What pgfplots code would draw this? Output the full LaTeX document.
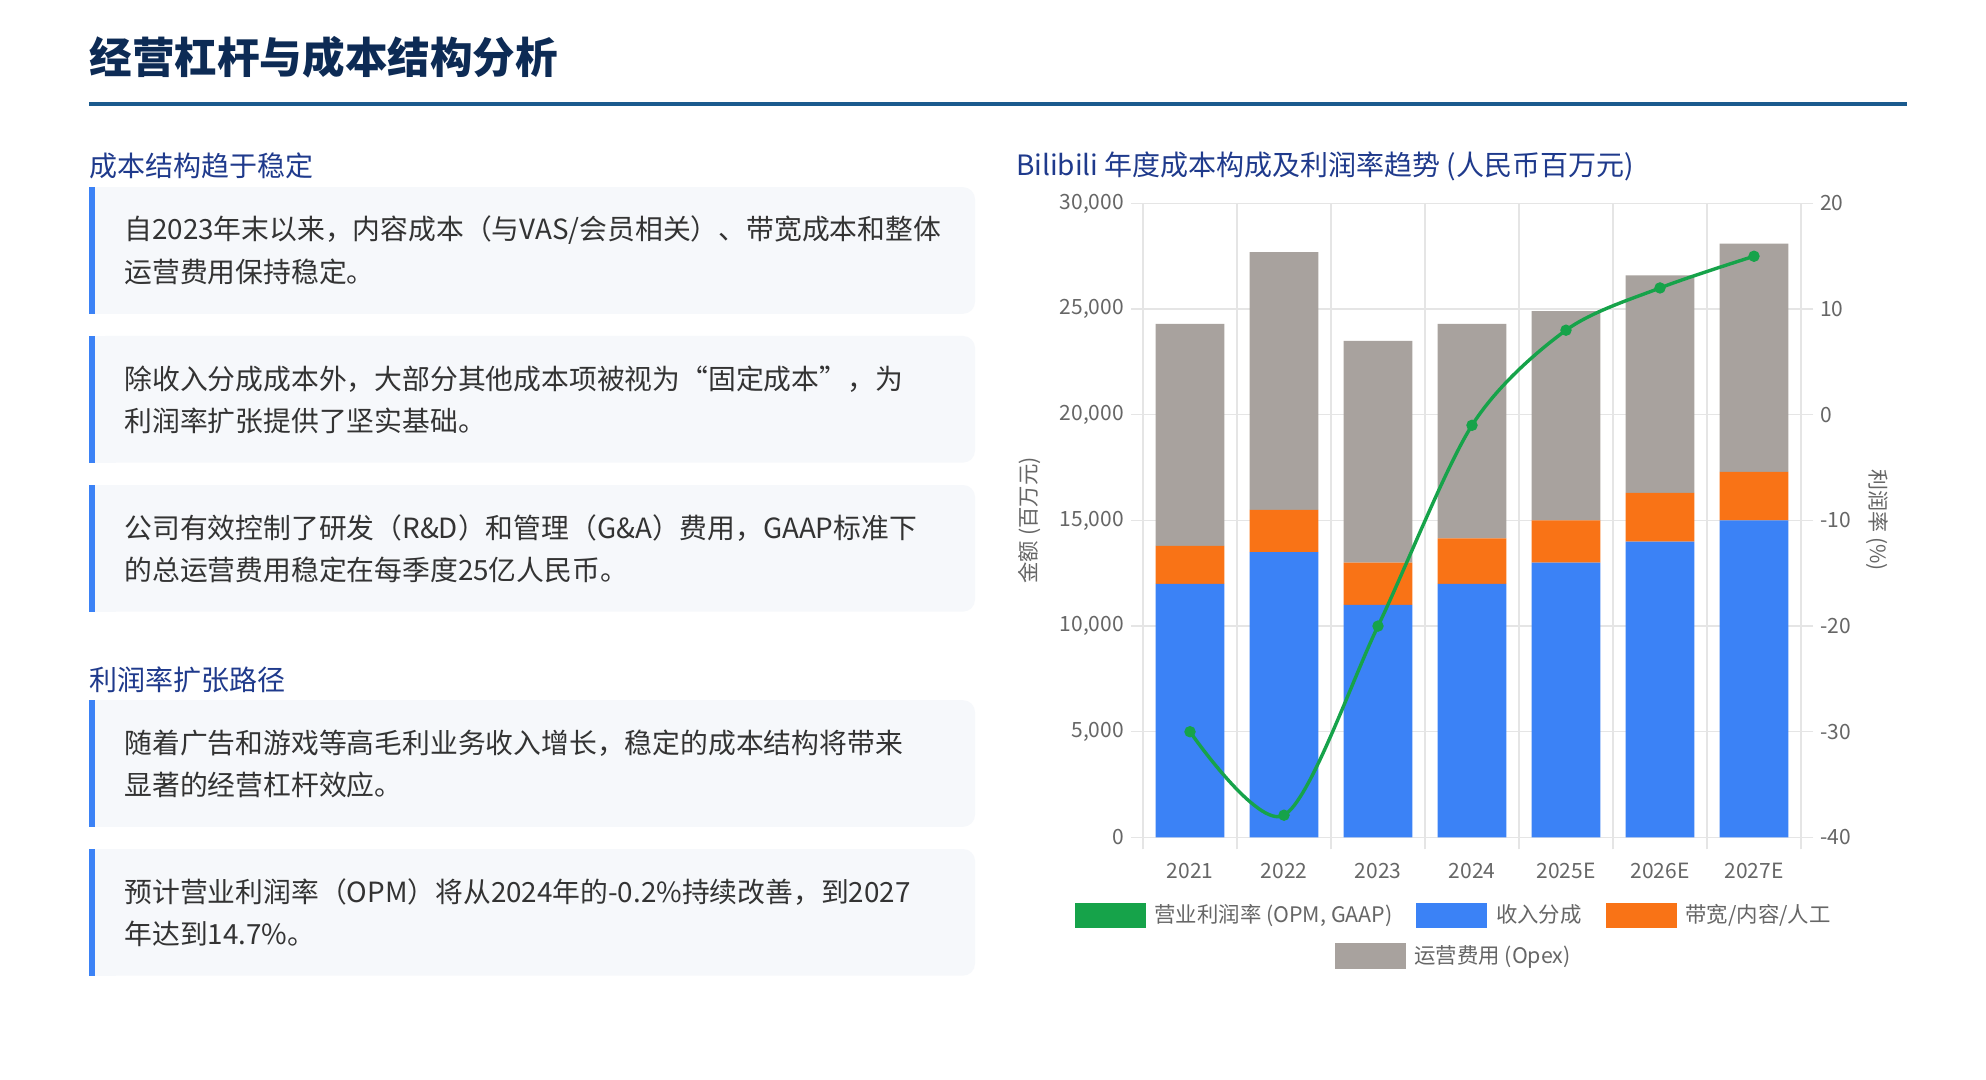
\documentclass[border=0pt]{standalone}
\usepackage{fontspec}
\setmainfont{Noto Sans CJK SC}
\usepackage{pgfplots}
\pgfplotsset{compat=1.18}

\definecolor{ctitle}{RGB}{13,43,85}
\definecolor{crule}{RGB}{26,90,142}
\definecolor{chead}{RGB}{31,58,140}
\definecolor{ctext}{RGB}{51,51,51}
\definecolor{cardbg}{RGB}{246,248,251}
\definecolor{cbar}{RGB}{59,130,246}
\definecolor{cblue}{RGB}{59,130,246}
\definecolor{corange}{RGB}{249,115,22}
\definecolor{cgray}{RGB}{168,162,158}
\definecolor{cgreen}{RGB}{22,163,74}
\definecolor{cgrid}{RGB}{229,229,229}
\definecolor{ctick}{RGB}{102,102,102}

\newcommand\body{\fontsize{13.9}{17}\selectfont}
\newcommand\card[3]{%
  \fill[cardbg, rounded corners=6pt] (47pt,-#1pt) rectangle (487.5pt,-#1pt-63.3pt);
  \fill[cardbg] (47pt,-#1pt) rectangle (58pt,-#1pt-63.3pt);
  \fill[cbar] (44.5pt,-#1pt) rectangle (47.7pt,-#1pt-63.3pt);
  \node[anchor=west, inner sep=0pt, text=ctext, font=\body] at (62pt,-#1pt-21.6pt) {#2};
  \node[anchor=west, inner sep=0pt, text=ctext, font=\body] at (62pt,-#1pt-42.6pt) {#3};
}

\pgfplotsset{
  slide axis/.style={
    at={(571.5pt,-418.7pt)}, anchor=south west,
    scale only axis, width=329pt, height=317pt,
    xmin=-0.5, xmax=6.5,
    tick align=outside, major tick length=6pt,
    tick style={cgrid, line width=0.6pt},
    ticklabel style={font=\fontsize{10.5}{12}\selectfont, text=ctick},
    /pgf/number format/assume math mode=true,
    /pgf/number format/1000 sep={,},
    axis line style={draw=none},
  },
  box legend/.style={legend image code/.code={\fill[#1] (0pt,-6.2pt) rectangle (35pt,6.2pt);}},
  slide legend/.style={
    draw=none, fill=none, font=\fontsize{10.7}{12}\selectfont, text=ctick,
    nodes={inner sep=1.5pt},
    /tikz/every odd column/.append style={column sep=3pt},
    /tikz/every even column/.append style={column sep=10.5pt},
  },
}

\begin{document}
\begin{tikzpicture}
\path[use as bounding box, fill=white] (0pt,0pt) rectangle (993pt,-540pt);

% page title and rule
\node[anchor=west, inner sep=0pt, text=ctitle, font=\fontsize{21.3}{26}\selectfont\bfseries] at (44.5pt,-28.7pt) {经营杠杆与成本结构分析};
\draw[crule, line width=2pt] (44.5pt,-52.2pt) -- (953.5pt,-52.2pt);

% left column
\node[anchor=west, inner sep=0pt, text=chead, font=\fontsize{14}{17}\selectfont] at (44.5pt,-82.7pt) {成本结构趋于稳定};
\card{93.6}{自2023年末以来，内容成本（与VAS/会员相关）、带宽成本和整体}{运营费用保持稳定。}
\card{168.0}{除收入分成成本外，大部分其他成本项被视为“固定成本”，为}{利润率扩张提供了坚实基础。}
\card{242.5}{公司有效控制了研发（R\&D）和管理（G\&A）费用，GAAP标准下}{的总运营费用稳定在每季度25亿人民币。}
\node[anchor=west, inner sep=0pt, text=chead, font=\fontsize{14}{17}\selectfont] at (44.5pt,-339.9pt) {利润率扩张路径};
\card{350.1}{随着广告和游戏等高毛利业务收入增长，稳定的成本结构将带来}{显著的经营杠杆效应。}
\card{424.5}{预计营业利润率（OPM）将从2024年的-0.2\%持续改善，到2027}{年达到14.7\%。}

% chart title
\node[anchor=west, inner sep=0pt, text=chead, font=\fontsize{14}{17}\selectfont] at (507.8pt,-83.4pt) {Bilibili 年度成本构成及利润率趋势 (人民币百万元)};

% stacked cost bars (left axis)
\begin{axis}[slide axis,
  ybar stacked, bar width=0.73,
  ymin=0, ymax=30000, ytick={0,5000,...,30000}, scaled y ticks=false,
  xtick={-0.5,0.5,...,6.5}, x tick label as interval,
  xticklabels={2021,2022,2023,2024,2025E,2026E,2027E},
  xticklabel style={yshift=-3.2pt},
  xtick pos=lower, ytick pos=left,
  xmajorgrids, ymajorgrids,
  major grid style={cgrid, line width=0.6pt},
  ylabel={金额 (百万元)},
  every axis y label/.style={at={(axis description cs:-0.173,0.5)}, rotate=90, anchor=center,
    font=\fontsize{10.7}{12}\selectfont, text=ctick},
]
\addplot[fill=cblue, draw=none] coordinates {(0,12000) (1,13500) (2,11000) (3,12000) (4,13000) (5,14000) (6,15000)};
\addplot[fill=corange, draw=none] coordinates {(0,1800) (1,2000) (2,2000) (3,2150) (4,2000) (5,2300) (6,2300)};
\addplot[fill=cgray, draw=none] coordinates {(0,10500) (1,12200) (2,10500) (3,10150) (4,9900) (5,10300) (6,10800)};
\end{axis}

% operating margin (right axis)
\begin{axis}[slide axis,
  ymin=-40, ymax=20, ytick={-40,-30,...,20},
  axis x line=none, axis y line*=right,
  ylabel={利润率 (\%)},
  every axis y label/.style={at={(axis description cs:1.116,0.5)}, rotate=-90, anchor=center,
    font=\fontsize{10.5}{12}\selectfont, text=ctick},
  legend columns=3, legend cell align=left,
  legend style={slide legend, at={(0.473,-0.123)}, anchor=center},
]
\addplot[cgreen, line width=1.7pt, smooth, tension=0.5, mark=*, mark size=2.6pt,
  mark options={fill=cgreen, draw=cgreen, line width=0.5pt}, forget plot]
  coordinates {(0,-30) (1,-37.9) (2,-20) (3,-1) (4,8) (5,12) (6,15)};
\addlegendimage{box legend=cgreen}
\addlegendentry{营业利润率 (OPM, GAAP)}
\addlegendimage{box legend=cblue}
\addlegendentry{收入分成}
\addlegendimage{box legend=corange}
\addlegendentry{带宽/内容/人工}
\end{axis}

% second legend row
\begin{axis}[slide axis, hide axis, ymin=0, ymax=1,
  legend cell align=left,
  legend style={slide legend, at={(0.473,-0.187)}, anchor=center},
]
\addlegendimage{box legend=cgray}
\addlegendentry{运营费用 (Opex)}
\end{axis}
\end{tikzpicture}
\end{document}
